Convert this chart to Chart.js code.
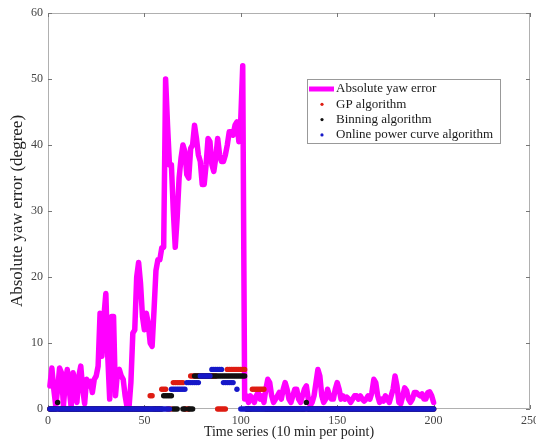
<!DOCTYPE html>
<html>
<head>
<meta charset="utf-8">
<script src="https://cdn.jsdelivr.net/npm/chart.js@4"></script>
<style>
  html, body { margin: 0; padding: 0; background: #fff; }
</style>
</head>
<body>
<canvas id="myChart" width="536" height="441"></canvas>
<script>
// one value per 10-min step, t = 1..200
var yawError = [
    3.5, 6.2, 3, 0.5, 3, 6.2, 5.5, 0.5, 4, 6, 3, 0.3, 5.5, 4, 1, 5, 6.5, 3, 0.8, 4.5,
    3.5, 4.2, 2.5, 4.5, 5, 6.5, 14.5, 8, 14, 17.5, 8, 1.5, 14, 14, 2, 5.5, 6, 5, 4.5, 2,
    0.3, 0.2, 4, 11.5, 12, 20, 22.2, 19, 14, 12, 14.5, 13, 10, 9.5, 15, 21, 22.6, 22.6, 24.4, 24.5,
    50, 43, 37, 37, 30, 24.5, 29, 35, 38, 40, 39, 35.5, 35, 39.5, 40, 43, 41, 38.5, 37.5, 34,
    34, 37, 41, 40.5, 37, 36, 38, 41, 38.5, 37.5, 37.5, 38.5, 40, 42, 42, 41.5, 43, 43.5, 40.5, 44,
    52, 1.5, 2, 1, 2, 1.5, 1, 2, 2.5, 1.5, 2, 1, 3, 4.5, 4, 2, 1, 1.5, 2, 2.5,
    1.5, 3, 4, 3, 1.5, 1, 2, 3, 3, 1.5, 1, 2, 3, 3.5, 1.5, 0.5, 1, 2, 4, 6,
    5, 2, 1, 1.5, 3, 2, 1.5, 1.5, 3, 4, 3, 1.5, 2, 1.5, 1.8, 1.5, 1, 1.5, 2, 2,
    1.5, 2, 1.5, 1.2, 1.5, 2, 1.5, 2.5, 4.5, 4, 2, 1, 1.5, 1.2, 2, 1.5, 1, 2, 3, 5,
    3.5, 1, 0.8, 2, 3.2, 2.8, 1.5, 1, 1.5, 2.5, 2.5, 2.2, 2, 2.3, 1.5, 1.5, 2.5, 2.6, 2, 1
];

var gpAlgorithm = [
    0, 0, 0, 0, 0, 0, 0, 0, 0, 0, 0, 0, 0, 0, 0, 0, 0, 0, 0, 0,
    0, 0, 0, 0, 0, 0, 0, 0, 0, 0, 0, 0, 0, 0, 0, 0, 0, 0, 0, 0,
    0, 0, 0, 0, 0, 0, 0, 0, 0, 0, 0, 0, 2, 2, 0, 0, 0, 0, 3, 3,
    3, 0, 0, 0, 4, 4, 4, 4, 4, 4, 0, 0, 0, 5, 5, 5, 5, 5, 5, 5,
    5, 5, 5, 5, 5, 5, 5, 0, 0, 0, 0, 0, 6, 6, 6, 6, 6, 6, 6, 6,
    6, 6, 0, 0, 0, 3, 3, 3, 3, 3, 3, 3, 0, 0, 0, 0, 0, 0, 0, 0,
    0, 0, 0, 0, 0, 0, 0, 0, 0, 0, 0, 0, 0, 0, 0, 0, 0, 0, 0, 0,
    0, 0, 0, 0, 0, 0, 0, 0, 0, 0, 0, 0, 0, 0, 0, 0, 0, 0, 0, 0,
    0, 0, 0, 0, 0, 0, 0, 0, 0, 0, 0, 0, 0, 0, 0, 0, 0, 0, 0, 0,
    0, 0, 0, 0, 0, 0, 0, 0, 0, 0, 0, 0, 0, 0, 0, 0, 0, 0, 0, 0
];

var binningAlgorithm = [
    0, 0, 0, 0, 1, 0, 0, 0, 0, 0, 0, 0, 0, 0, 0, 0, 0, 0, 0, 0,
    0, 0, 0, 0, 0, 0, 0, 0, 0, 0, 0, 0, 0, 0, 0, 0, 0, 0, 0, 0,
    0, 0, 0, 0, 0, 0, 0, 0, 0, 0, 0, 0, 0, 0, 0, 0, 0, 0, 0, 2,
    2, 2, 2, 2, 0, 0, 0, null, null, 0, 0, null, 0, 0, 0, 5, 5, 5, 5, 5,
    5, 5, 5, 5, 5, 5, 5, 5, 5, 5, 5, 5, 5, 5, 5, 5, 5, 5, 5, 5,
    5, 5, 0, 0, 0, 0, 0, 0, 0, 0, 0, 0, 0, 0, 0, 0, 0, 0, 0, 0,
    0, 0, 0, 0, 0, 0, 0, 0, 0, 0, 0, 0, 0, 1, 0, 0, 0, 0, 0, 0,
    0, 0, 0, 0, 0, 0, 0, 0, 0, 0, 0, 0, 0, 0, 0, 0, 0, 0, 0, 0,
    0, 0, 0, 0, 0, 0, 0, 0, 0, 0, 0, 0, 0, 0, 0, 0, 0, 0, 0, 0,
    0, 0, 0, 0, 0, 0, 0, 0, 0, 0, 0, 0, 0, 0, 0, 0, 0, 0, 0, 0
];

var onlineAlgorithm = [
    0, 0, 0, 0, 0, 0, 0, 0, 0, 0, 0, 0, 0, 0, 0, 0, 0, 0, 0, 0,
    0, 0, 0, 0, 0, 0, 0, 0, 0, 0, 0, 0, 0, 0, 0, 0, 0, 0, 0, 0,
    0, 0, 0, 0, 0, 0, 0, 0, 0, 0, 0, 0, 0, 0, 0, 0, 0, 0, 0, 0,
    0, 0, 0, 3, 3, 3, 3, 3, 3, 3, 3, 4, 4, 4, 4, 4, 4, 4, 5, 5,
    5, 5, 5, 5, 6, 6, 6, 6, 6, 6, 4, 4, 4, 4, 4, 4, null, 3, null, 0,
    0, 0, 0, 0, 0, 0, 0, 0, 0, 0, 0, 0, 0, 0, 0, 0, 0, 0, 0, 0,
    0, 0, 0, 0, 0, 0, 0, 0, 0, 0, 0, 0, 0, 0, 0, 0, 0, 0, 0, 0,
    0, 0, 0, 0, 0, 0, 0, 0, 0, 0, 0, 0, 0, 0, 0, 0, 0, 0, 0, 0,
    0, 0, 0, 0, 0, 0, 0, 0, 0, 0, 0, 0, 0, 0, 0, 0, 0, 0, 0, 0,
    0, 0, 0, 0, 0, 0, 0, 0, 0, 0, 0, 0, 0, 0, 0, 0, 0, 0, 0, 0
];

var seriesLabels = ['Absolute yaw error', 'GP algorithm', 'Binning algorithm', 'Online power curve algorithm'];
var xTicks = [0, 50, 100, 150, 200, 250];
var yTicks = [0, 10, 20, 30, 40, 50, 60];

var serif = '"Liberation Serif", "DejaVu Serif", serif';

function toPoints(values) {
    return values.map(function(v, i) { return { x: i + 1, y: v }; });
}

// grey box with inward tick marks, MATLAB style
var framePlugin = {
    id: 'frame',
    beforeDatasetsDraw: function(chart) {
        var ctx = chart.ctx, a = chart.chartArea;
        var xs = chart.scales.x, ys = chart.scales.y;
        ctx.save();
        ctx.strokeStyle = '#b0b0b0';
        ctx.lineWidth = 1;
        ctx.strokeRect(a.left + 0.5, a.top + 0.5, a.right - a.left - 1, a.bottom - a.top - 1);
        ctx.strokeStyle = '#777';
        ctx.beginPath();
        xTicks.forEach(function(v) {
            var px = Math.round(xs.getPixelForValue(v)) + 0.5;
            ctx.moveTo(px, a.bottom); ctx.lineTo(px, a.bottom - 4);
            ctx.moveTo(px, a.top); ctx.lineTo(px, a.top + 4);
        });
        yTicks.forEach(function(v) {
            var py = Math.round(ys.getPixelForValue(v)) + 0.5;
            ctx.moveTo(a.left, py); ctx.lineTo(a.left + 4, py);
            ctx.moveTo(a.right, py); ctx.lineTo(a.right - 4, py);
        });
        ctx.stroke();
        ctx.restore();
    }
};

var legendPlugin = {
    id: 'boxLegend',
    afterDraw: function(chart) {
        var ctx = chart.ctx;
        var x0 = 307, y0 = 79, w = 193, h = 64;
        var ds = chart.data.datasets;
        ctx.save();
        ctx.fillStyle = '#fff';
        ctx.fillRect(x0, y0, w, h);
        ctx.strokeStyle = '#999';
        ctx.lineWidth = 1;
        ctx.strokeRect(x0 + 0.5, y0 + 0.5, w, h);
        ctx.font = '13px ' + serif;
        ctx.textBaseline = 'middle';
        for (var i = 0; i < ds.length; i++) {
            var cy = y0 + 10 + i * 15.3;
            if (i === 0) {
                ctx.strokeStyle = ds[i].borderColor;
                ctx.lineWidth = 5;
                ctx.beginPath();
                ctx.moveTo(x0 + 2, cy); ctx.lineTo(x0 + 27, cy);
                ctx.stroke();
            } else {
                ctx.fillStyle = ds[i].pointBackgroundColor;
                ctx.beginPath();
                ctx.arc(x0 + 15, cy, 1.6, 0, Math.PI * 2);
                ctx.fill();
            }
            ctx.fillStyle = '#1a1a1a';
            ctx.fillText(ds[i].label, x0 + 29, cy);
        }
        ctx.restore();
    }
};

function dotSet(label, values, color, order) {
    return {
        type: 'scatter',
        label: label,
        data: toPoints(values),
        pointRadius: 2.7,
        pointBorderWidth: 0,
        pointBackgroundColor: color,
        backgroundColor: color,
        borderColor: color,
        showLine: false,
        clip: false,
        order: order
    };
}

var ctx = document.getElementById('myChart').getContext('2d');
var myChart = new Chart(ctx, {
    type: 'line',
    data: {
        datasets: [
            {
                label: seriesLabels[0],
                data: toPoints(yawError),
                borderColor: '#ff00ff',
                backgroundColor: '#ff00ff',
                borderWidth: 5.5,
                pointRadius: 0,
                tension: 0,
                borderJoinStyle: 'round',
                borderCapStyle: 'round',
                clip: 5,
                order: 4
            },
            dotSet(seriesLabels[1], gpAlgorithm, 'rgb(222, 28, 18)', 3),
            dotSet(seriesLabels[2], binningAlgorithm, '#111111', 2),
            dotSet(seriesLabels[3], onlineAlgorithm, 'rgb(22, 24, 200)', 1)
        ]
    },
    options: {
        responsive: false,
        animation: false,
        events: [],
        layout: { padding: { top: 13, right: 6, left: 0, bottom: 0 } },
        plugins: {
            legend: { display: false },
            tooltip: { enabled: false }
        },
        scales: {
            x: {
                type: 'linear',
                min: 0,
                max: 250,
                grid: { display: false, drawTicks: false },
                border: { display: false },
                afterBuildTicks: function(scale) {
                    scale.ticks = xTicks.map(function(v) { return { value: v }; });
                },
                afterFit: function(scale) {
                    scale.height = 32;
                    scale.paddingRight = 0;
                    scale.paddingLeft = 0;
                },
                ticks: {
                    padding: 5,
                    maxRotation: 0,
                    color: '#444',
                    font: { family: serif, size: 12 }
                },
                title: {
                    display: true,
                    text: 'Time series (10 min per point)',
                    color: '#222',
                    font: { family: serif, size: 14 },
                    padding: { top: 0, bottom: 0 }
                }
            },
            y: {
                min: 0,
                max: 60,
                grid: { display: false, drawTicks: false },
                border: { display: false },
                afterBuildTicks: function(scale) {
                    scale.ticks = yTicks.map(function(v) { return { value: v }; });
                },
                afterFit: function(scale) {
                    scale.width = 48;
                    scale.paddingTop = 0;
                    scale.paddingBottom = 0;
                },
                ticks: {
                    padding: 5,
                    color: '#444',
                    font: { family: serif, size: 12 }
                },
                title: {
                    display: true,
                    text: 'Absolute yaw error (degree)',
                    color: '#222',
                    font: { family: serif, size: 17 },
                    padding: { top: 7, bottom: 0 }
                }
            }
        }
    },
    plugins: [framePlugin, legendPlugin]
});
</script>
</body>
</html>
